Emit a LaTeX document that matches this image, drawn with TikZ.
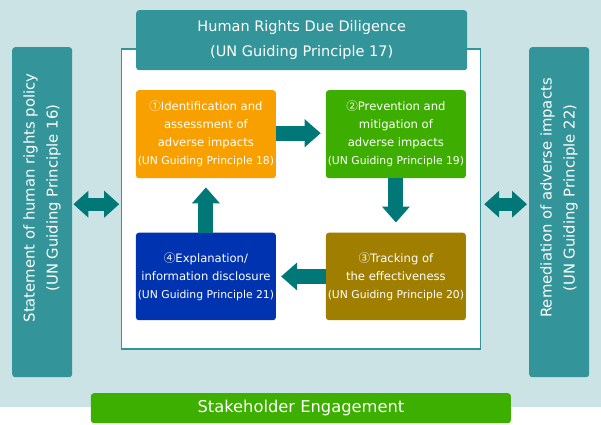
\documentclass[tikz,border=0pt]{standalone}
\usepackage{fontspec}
\setmainfont{DejaVu Sans}
\newfontfamily\cjkfont{Noto Sans CJK JP}
\newcommand{\circnum}[1]{{\cjkfont #1}}
\newcommand{\unline}[1]{{\fontsize{10.8}{18}\selectfont #1}}
\usetikzlibrary{arrows.meta}
\definecolor{bg}{HTML}{CCE3E5}
\definecolor{tealbox}{HTML}{339599}
\definecolor{arr}{HTML}{007878}
\definecolor{orng}{HTML}{F7A000}
\definecolor{grn}{HTML}{3DAE00}
\definecolor{blu}{HTML}{0033B0}
\definecolor{olv}{HTML}{9F7E00}
\definecolor{stk}{HTML}{3DAF00}
\begin{document}
\begin{tikzpicture}[x=1pt,y=-1pt,
  stepbox/.style={rounded corners=3pt, inner sep=0pt, text=white, align=center,
    minimum width=140pt, minimum height=88pt, anchor=north west,
    font=\fontsize{11.6}{18}\selectfont},
  tbox/.style={fill=tealbox, rounded corners=3pt, inner sep=0pt, text=white,
    align=center, anchor=north west},
  sidetext/.style={rotate=90, text=white, align=center, inner sep=0pt,
    font=\fontsize{14.8}{23}\selectfont},
  barrow/.style={draw=arr, line width=15pt, -{Triangle[length=16pt,width=27pt]}},
  darrow/.style={draw=arr, line width=13pt,
    {Triangle[length=15pt,width=26pt]}-{Triangle[length=15pt,width=26pt]}},
]
\useasboundingbox (0,0) rectangle (601,424);
\fill[bg] (0,0) rectangle (601,407);

% inner frame
\node[draw=tealbox, line width=1.5pt, fill=white, minimum width=359pt,
  minimum height=300pt, anchor=north west, inner sep=0pt] (frame) at (120.7,48) {};

% title
\node[tbox, minimum width=331pt, minimum height=60pt,
  font=\fontsize{14.5}{25}\selectfont] (title) at (136,10)
  {Human Rights Due Diligence\\(UN Guiding Principle 17)};

% side boxes
\node[tbox, minimum width=60pt, minimum height=330pt] (lbox) at (12,47) {};
\node[sidetext] (ltext) at (42,198)
  {Statement of human rights policy\\(UN Guiding Principle 16)};
\node[tbox, minimum width=60pt, minimum height=330pt] (rbox) at (529,47) {};
\node[sidetext] (rtext) at (559,198)
  {Remediation of adverse impacts\\(UN Guiding Principle 22)};

% step boxes
\node[stepbox, fill=orng] (s1) at (135.7,90)
  {\circnum{①}Identification and\\assessment of\\adverse impacts\\\unline{(UN Guiding Principle 18)}};
\node[stepbox, fill=grn] (s2) at (325.7,90)
  {\circnum{②}Prevention and\\mitigation of\\adverse impacts\\\unline{(UN Guiding Principle 19)}};
\node[stepbox, fill=olv, minimum height=87.5pt] (s3) at (325.7,232.5)
  {\circnum{③}Tracking of\\the effectiveness\\\unline{(UN Guiding Principle 20)}};
\node[stepbox, fill=blu, minimum height=87.5pt] (s4) at (135.7,232.5)
  {\circnum{④}Explanation/\\information disclosure\\\unline{(UN Guiding Principle 21)}};

% stakeholder bar
\node[tbox, fill=stk, minimum width=420pt, minimum height=30pt,
  font=\fontsize{16.3}{20}\selectfont] (stake) at (90.7,393)
  {Stakeholder Engagement};

% cycle arrows
\draw[barrow] ([yshift=1pt]s1.east) -- ([xshift=-5pt,yshift=1pt]s2.west);
\draw[barrow] (s2.south) -- ([yshift=10pt]s3.north);
\draw[barrow] (s3.west) -- ([xshift=5pt]s4.east);
\draw[barrow] (s4.north) -- ([yshift=-9pt]s1.south);

% side double arrows
\coordinate (la) at ([xshift=1pt,yshift=8pt]lbox.east);
\coordinate (lb) at ([xshift=-1.5pt,yshift=8pt]lbox.east -| frame.west);
\draw[darrow] (la) -- (lb);
\coordinate (ra) at ([xshift=3pt,yshift=8pt]rbox.west -| frame.east);
\coordinate (rb) at ([xshift=-2pt,yshift=8pt]rbox.west);
\draw[darrow] (ra) -- (rb);
\end{tikzpicture}
\end{document}
